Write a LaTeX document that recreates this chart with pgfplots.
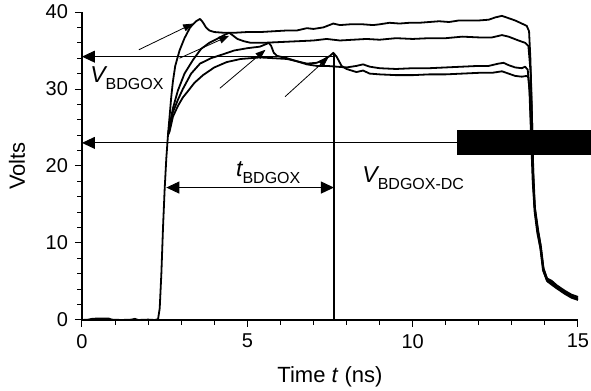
\documentclass[border=0pt]{standalone}
\usepackage{pgfplots}
\pgfplotsset{compat=1.18}
\usepackage{fontspec}
\setmainfont{Liberation Sans}
\usetikzlibrary{arrows.meta}
\tikzset{trace/.style={black, line width=0.9pt, line join=round, mark=none}}
\begin{document}
\begin{tikzpicture}
\begin{axis}[
  at={(0,0)}, anchor=south west,
  scale only axis, width=248pt, height=154pt,
  xmin=0, xmax=15, ymin=0, ymax=40,
  axis x line*=bottom, axis y line*=left,
  axis line style={-, line width=0.9pt},
  xtick={0,5,10,15}, ytick={0,10,20,30,40},
  minor x tick num=4, minor y tick num=4,
  tick align=outside,
  major tick length=3.5pt, minor tick length=2.3pt,
  tick style={line width=0.5pt, black},
  /pgf/number format/assume math mode=true,
  tick label style={font=\fontsize{10}{12}\selectfont},
  label style={font=\fontsize{11}{13}\selectfont},
  xlabel={Time \textit{t} (ns)},
  ylabel={Volts},
  xlabel style={at={(axis description cs:0.5,-0.185)}, anchor=center},
  ylabel style={at={(axis description cs:-0.131,0.5)}, anchor=center},
  clip=false,
]
% curve A (highest)
\addplot[trace] coordinates {(0,0) (0.2,0.05) (0.3,0.15) (0.5,0.2) (0.8,0.2) (0.9,0.05) (1.2,0) (1.5,0.05) (1.6,0.15) (1.7,0) (2.0,0.05) (2.2,0) (2.3,0.1) (2.35,1.5) (2.4,6) (2.45,12) (2.5,17) (2.55,21) (2.6,24)
 (2.65,26.5) (2.7,29) (2.75,31) (2.82,33.0) (2.95,35.0) (3.1,36.6) (3.27,38.0) (3.45,38.8) (3.57,39.1) (3.65,38.7) (3.75,38.0) (3.85,37.6) (4.0,37.4) (4.3,37.3) (4.6,37.3) (5.0,37.4) (5.4,37.4) (5.8,37.5) (6.2,37.6) (6.5,37.6) (6.8,37.9) (7.0,37.8) (7.3,38.0) (7.6,38.5) (7.8,38.3) (8.1,38.4) (8.5,38.4) (8.8,38.3) (9.0,38.4) (9.3,38.6) (9.6,38.5) (9.9,38.6) (10.2,38.6) (10.5,38.7) (10.8,38.8) (11.1,38.7) (11.4,38.9) (11.7,38.9) (12.0,38.9) (12.3,39.0) (12.5,39.3) (12.7,39.5) (12.9,39.2) (13.1,38.9) (13.3,38.5) (13.45,38.2) (13.52,37.5)
 (13.56,34) (13.6,28) (13.64,20) (13.68,15) (13.78,11.8) (13.86,9.9) (13.95,6.8) (14.06,5.4) (14.2,5.1) (14.36,4.5) (14.6,3.8) (14.8,3.3) (15,3.0)};
% curve B
\addplot[trace] coordinates {(2.6,24) (2.65,25.3) (2.75,27.5) (2.9,29.8) (3.1,32.0) (3.36,33.8) (3.6,35.2) (3.85,36.0) (4.08,36.5) (4.3,37.0) (4.45,37.3) (4.55,37.0) (4.7,36.5) (4.9,36.2) (5.1,36.0) (5.5,36.0) (6.0,36.1) (6.5,36.2) (7.0,36.3) (7.4,36.5) (7.8,36.3) (8.2,36.4) (8.6,36.5) (9.0,36.4) (9.5,36.6) (10.0,36.5) (10.5,36.6) (11.0,36.6) (11.5,36.8) (12.0,36.7) (12.4,36.7) (12.7,37.0) (12.9,36.8) (13.2,36.3) (13.4,36.0) (13.5,35.6)
 (13.57,32) (13.61,26) (13.65,19) (13.7,14.5) (13.8,11.5) (13.88,9.5) (13.96,6.6) (14.08,5.2) (14.2,4.9) (14.36,4.3) (14.6,3.6) (14.8,3.1) (15,2.8)};
% curve C
\addplot[trace] coordinates {(2.6,24) (2.65,25) (2.75,27.0) (2.9,28.6) (3.05,30.0) (3.3,32.0) (3.57,33.3) (3.9,34.0) (4.26,34.5) (4.6,35.0) (5.0,35.3) (5.38,35.5) (5.55,35.8) (5.65,36.0) (5.72,35.6) (5.8,34.7) (5.9,34.3) (6.2,34.0) (6.5,33.6) (6.8,33.2) (7.1,33.0) (7.4,33.0) (7.7,32.9) (8.0,32.8) (8.3,33.0) (8.5,33.2) (8.7,32.9) (9.0,32.7) (9.5,32.6) (10.0,32.7) (10.5,32.7) (11.0,32.8) (11.5,32.9) (12.0,33.0) (12.3,33.0) (12.6,33.3) (12.75,33.4) (12.9,33.1) (13.1,32.8) (13.3,32.7) (13.4,32.9) (13.48,32.5)
 (13.53,30) (13.58,24) (13.63,18) (13.69,14) (13.77,11.3) (13.86,9.4) (13.94,6.5) (14.06,5.1) (14.2,4.7) (14.36,4.2) (14.6,3.5) (14.8,3.0) (15,2.7)};
% curve D
\addplot[trace] coordinates {(2.6,24) (2.65,24.5) (2.75,26.4) (2.9,27.8) (3.05,28.9) (3.2,29.7) (3.4,30.8) (3.66,31.8) (4.0,32.8) (4.38,33.5) (4.8,33.9) (5.38,34.1) (5.8,34.0) (6.2,33.9) (6.5,33.6) (6.8,33.3) (7.1,33.4) (7.3,33.8) (7.5,34.3) (7.6,34.7) (7.7,34.2) (7.85,33.0) (8.0,32.6) (8.3,32.2) (8.5,32.4) (8.7,32.0) (9.0,31.9) (9.5,31.8) (10.0,31.8) (10.5,31.9) (11.0,31.9) (11.5,32.0) (12.0,32.1) (12.4,32.1) (12.7,32.3) (12.9,32.0) (13.1,31.7) (13.3,31.6) (13.45,31.7) (13.5,31.5)
 (13.55,29) (13.6,23) (13.65,17.5) (13.7,14) (13.79,11.2) (13.87,9.2) (13.96,6.3) (14.08,5.0) (14.2,4.6) (14.36,4.1) (14.6,3.4) (14.8,2.9) (15,2.6)};

% main annotation arrows
\draw[line width=0.5pt, -{Triangle[length=6.5pt,width=6pt]}] (axis cs:7.62,34.2) -- (axis cs:0,34.2);
\draw[line width=0.5pt, -{Triangle[length=6.5pt,width=6pt]}] (axis cs:11.34,23.0) -- (axis cs:0,23.0);
\draw[line width=0.5pt, {Triangle[length=6.5pt,width=6pt]}-{Triangle[length=6.5pt,width=6pt]}] (axis cs:2.55,17.2) -- (axis cs:7.62,17.2);
\draw[line width=0.6pt] (axis cs:7.62,0) -- (axis cs:7.62,34.6);
% thin pointer arrows
\draw[line width=0.4pt, -{Triangle[length=5pt,width=3.6pt]}] (axis cs:1.72,35.1) -- (axis cs:3.36,38.5);
\draw[line width=0.4pt, -{Triangle[length=5pt,width=3.6pt]}] (axis cs:2.95,34.0) -- (axis cs:4.45,36.9);
\draw[line width=0.4pt, -{Triangle[length=5pt,width=3.6pt]}] (axis cs:4.17,30.1) -- (axis cs:5.55,35.1);
\draw[line width=0.4pt, -{Triangle[length=5pt,width=3.6pt]}] (axis cs:6.14,29.0) -- (axis cs:7.45,34.1);
% black bar
\fill[black] (axis cs:11.34,21.43) rectangle (axis cs:15.39,24.68);
% labels
\node[anchor=base west, inner sep=0pt] at (axis cs:0.24,30.9) {{\fontsize{11.5}{13}\selectfont\itshape V}\raisebox{-3.5pt}{\fontsize{8}{9}\selectfont BDGOX}};
\node[anchor=base west, inner sep=0pt] at (axis cs:4.65,18.6) {{\fontsize{11.5}{13}\selectfont\itshape t}\raisebox{-3.5pt}{\fontsize{8}{9}\selectfont BDGOX}};
\node[anchor=base west, inner sep=0pt] at (axis cs:8.47,17.8) {{\fontsize{11.5}{13}\selectfont\itshape V}\raisebox{-3.5pt}{\fontsize{8}{9}\selectfont BDGOX-DC}};
\end{axis}
\pgfresetboundingbox
\path (-41pt,-35.5pt) rectangle (254.5pt,160pt);
\end{tikzpicture}
\end{document}
